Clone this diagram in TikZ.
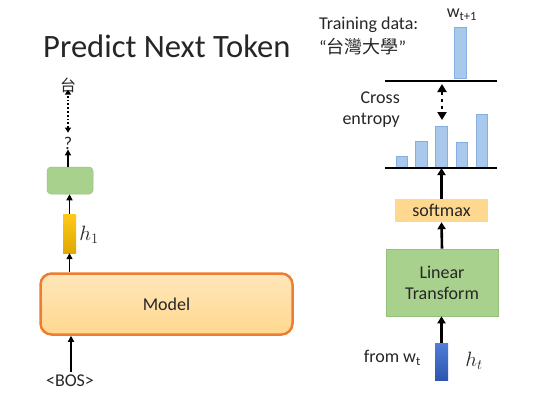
\documentclass[tikz,border=0pt]{standalone}
\usepackage{fontspec}
\setmainfont{Carlito}
\newfontfamily\cjk{Noto Sans CJK TC}
\usetikzlibrary{arrows.meta}
\definecolor{gfill}{HTML}{A9D18E}
\definecolor{gdraw}{HTML}{94C07A}
\definecolor{ofill}{HTML}{FFD88F}
\definecolor{otop}{HTML}{FFE6BA}
\definecolor{odraw}{HTML}{ED7D31}
\definecolor{ytop}{HTML}{FFC91A}
\definecolor{ybot}{HTML}{E0A800}
\definecolor{btop}{HTML}{4F7FD6}
\definecolor{bbot}{HTML}{2F55B0}
\definecolor{lbfill}{HTML}{A8C8EC}
\definecolor{lbdraw}{HTML}{86AEDF}
\definecolor{txt}{HTML}{262626}
\begin{document}
\begin{tikzpicture}[x=1pt,y=-1pt,
  every node/.style={text=txt, font=\fontsize{18}{21}\selectfont, inner sep=0pt},
  arr/.style={line width=2.6pt, -{Triangle[width=8pt,length=7pt]}},
  sarr/.style={line width=1.8pt, -{Triangle[width=6pt,length=6pt]}},
  pbar/.style={fill=lbfill, draw=lbdraw, line width=0.6pt},
  hline/.style={line width=2pt}]
\useasboundingbox (0,0) rectangle (541,402);

% ---------- left ----------
\node[anchor=base west, font=\fontsize{32.6}{36}\selectfont] (title) at (43,57) {Predict Next Token};
\node (tai) at (68,85) {\cjk\fontsize{16}{18}\selectfont 台};
\node (q) at (68,143) {?};
\node[fill=gfill, draw=gdraw, line width=0.5pt, rounded corners=4pt, minimum width=46pt, minimum height=27pt] (gbox) at (70,180.5) {};
\node[top color=ytop, bottom color=ybot, minimum width=13pt, minimum height=39pt] (ybar) at (69.5,233.5) {};
\node (h1) at (89,235) {\fontsize{20}{22}\selectfont$h_1$};
\node[top color=otop, bottom color=ofill, draw=odraw, line width=2.5pt, rounded corners=11pt, minimum width=252pt, minimum height=61pt] (model) at (166.5,304) {Model};
\node (bos) at (70,381) {<BOS>};

\draw[sarr] (bos.north) ++(1,-3) coordinate (bs) -- (bs |- model.south);
\draw[sarr] (ybar.south |- model.north) -- (ybar.south);
\draw[sarr] (ybar.north) -- (ybar.north |- gbox.south);
\draw[sarr] (gbox.north) ++(-2,0) coordinate (gt) -- (gt |- q.south);
\draw[line width=1.8pt, dotted, {Triangle[width=6pt,length=5pt]}-{Triangle[width=6pt,length=5pt]}] (q.north) ++(0,-4) -- ([yshift=3pt]tai.south);

% ---------- right ----------
\node[anchor=west] (train) at (319,25) {Training data:};
\node[anchor=west] (tdata) at (319,47) {“{\cjk 台灣大學}”};
\node (wt1) at (462,15) {w\textsubscript{t+1}};
\node[pbar, minimum width=12pt, minimum height=51pt] (tbar) at (460,52.5) {};
\coordinate (t1) at (385,81); \coordinate (t2) at (497,81);
\draw[hline] (t1) -- (t2);

\node[align=right, anchor=east] (ce) at (400,110) {Cross\\entropy};
\coordinate (ca) at (442,84);
\coordinate (cb) at (442,120);
\draw[line width=2.2pt, dash pattern=on 3pt off 4pt, {Triangle[width=9pt,length=8pt]}-{Triangle[width=9pt,length=8pt]}] (ca) -- (cb);

\node[pbar, minimum width=11pt, minimum height=11pt] (p1) at (401.5,161.5) {};
\node[pbar, minimum width=12pt, minimum height=26pt] (p2) at (421,154) {};
\node[pbar, minimum width=12pt, minimum height=41pt] (p3) at (441,146.5) {};
\node[pbar, minimum width=11pt, minimum height=25pt] (p4) at (461.5,154.5) {};
\node[pbar, minimum width=11pt, minimum height=53pt] (p5) at (481.5,140.5) {};
\coordinate (b1) at (385,168); \coordinate (b2) at (497,168);
\draw[hline] (b1) -- (b2);

\node[fill=ofill, minimum width=93pt, minimum height=23pt] (soft) at (441.5,210.5) {softmax};
\node[fill=gfill, draw=gdraw, line width=0.6pt, minimum width=112pt, minimum height=67pt, align=center] (lin) at (442,282.5) {Linear\\Transform};
\node[top color=btop, bottom color=bbot, minimum width=13pt, minimum height=37pt] (hbar) at (441.5,361.5) {};
\node[anchor=east] (from) at (421,358) {from w\textsubscript{t}};
\node (ht) at (474,361) {\fontsize{20}{22}\selectfont$h_t$};

\draw[arr] (soft.north) -- (soft.north |- b1);
\draw[arr] (lin.north) -- (soft.south);
\draw[arr] (hbar.north) -- (hbar.north |- lin.south);
\end{tikzpicture}
\end{document}
